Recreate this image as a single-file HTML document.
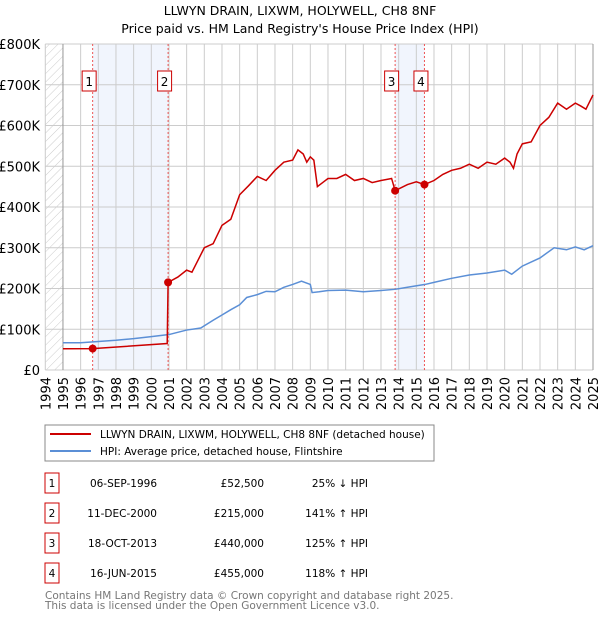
<!DOCTYPE html>
<html><head><meta charset="utf-8"><style>
body{margin:0;background:#fff;font-family:"Liberation Sans","DejaVu Sans",sans-serif;}
svg text{font-family:"DejaVu Sans","Liberation Sans",sans-serif;}
</style></head><body>
<svg id="c" width="600" height="620" viewBox="0 0 600 620" xmlns="http://www.w3.org/2000/svg">
<defs><pattern id="hatch" width="6" height="6" patternUnits="userSpaceOnUse" patternTransform="rotate(45)"><line x1="0" y1="0" x2="0" y2="6" stroke="#ccc" stroke-width="1"/></pattern></defs>
<text x="300" y="15" text-anchor="middle" font-size="12.5">LLWYN DRAIN, LIXWM, HOLYWELL, CH8 8NF</text>
<text x="300" y="33" text-anchor="middle" font-size="12.5">Price paid vs. HM Land Registry's House Price Index (HPI)</text>
<g id="plot"></g>
<rect x="45" y="425" width="389" height="36" fill="#fff" stroke="#888"/>
<line x1="50" y1="434" x2="91" y2="434" stroke="#cc0000" stroke-width="2"/>
<text x="100" y="438" font-size="10.5">LLWYN DRAIN, LIXWM, HOLYWELL, CH8 8NF (detached house)</text>
<line x1="50" y1="451" x2="91" y2="451" stroke="#5b8fd6" stroke-width="2"/>
<text x="100" y="455" font-size="10.5">HPI: Average price, detached house, Flintshire</text>
<g id="tbl"></g>
<text x="45" y="599" font-size="10.5" fill="#777">Contains HM Land Registry data © Crown copyright and database right 2025.</text>
<text x="45" y="609" font-size="10.5" fill="#777">This data is licensed under the Open Government Licence v3.0.</text>
</svg>
<script>
const hpiYears=[1995,1996,1997,1998,1999,2000,2001,2002,2002.8,2003.5,2004,2004.5,2005,2005.4,2006,2006.5,2007,2007.5,2008,2008.5,2009,2009.1,2009.5,2010,2011,2012,2013,2013.8,2014.5,2015.5,2016,2017,2018,2019,2020,2020.4,2021,2022,2022.8,2023.5,2024,2024.5,2025];
const hpiValues=[67,67,70,73,77,82,87,98,103,122,135,148,160,178,185,193,192,203,210,218,210,190,192,195,196,192,195,198,203,210,215,225,233,238,245,235,255,275,300,295,302,295,305];
const redYears=[1995,1996.68,2000.9,2000.95,2001.5,2002,2002.3,2003,2003.5,2004,2004.5,2005,2005.5,2006,2006.5,2007,2007.5,2008,2008.3,2008.6,2008.8,2009,2009.2,2009.4,2009.7,2010,2010.5,2011,2011.5,2012,2012.5,2013,2013.6,2013.8,2014.5,2015,2015.46,2016,2016.5,2017,2017.5,2018,2018.5,2019,2019.5,2020,2020.3,2020.5,2020.7,2021,2021.5,2022,2022.5,2023,2023.5,2024,2024.3,2024.6,2025];
const redValues=[52,52.5,65,215,228,245,240,300,310,355,370,430,452,475,465,490,510,515,540,530,510,523,515,450,460,470,470,480,465,470,460,465,470,440,455,462,455,465,480,490,495,505,495,510,505,520,510,495,530,555,560,600,620,655,640,655,648,640,675];
const saleLabels=["1","2","3","4"];
const saleYears=[1996.68,2000.95,2013.8,2015.46];
const saleValues=[52.5,215,440,455];
const saleDates=["06-SEP-1996","11-DEC-2000","18-OCT-2013","16-JUN-2015"];
const salePrices=["£52,500","£215,000","£440,000","£455,000"];
const saleHpi=["25% ↓ HPI","141% ↑ HPI","125% ↑ HPI","118% ↑ HPI"];
const yTicks=[0,100,200,300,400,500,600,700,800];
const yTickLabels=["£0","£100K","£200K","£300K","£400K","£500K","£600K","£700K","£800K"];
const xTicks=[1994,1995,1996,1997,1998,1999,2000,2001,2002,2003,2004,2005,2006,2007,2008,2009,2010,2011,2012,2013,2014,2015,2016,2017,2018,2019,2020,2021,2022,2023,2024,2025];

const X0=45.3,X1=593,Y0=370,Y1=44;
const xs=y=>X0+(y-1994)*(X1-X0)/31;
const ys=v=>Y0-v*(Y0-Y1)/800;
const NS="http://www.w3.org/2000/svg";
const plot=document.getElementById('plot');
function mk(tag,attrs,parent,text){const e=document.createElementNS(NS,tag);for(const k in attrs)e.setAttribute(k,attrs[k]);if(text!==undefined)e.textContent=text;(parent||plot).appendChild(e);return e;}

let e;
e=mk('rect',{x:X0,y:Y1,width:xs(1995)-X0,height:Y0-Y1,fill:'url(#hatch)'});


e=mk('rect',{x:xs(saleYears[0]),y:Y1,width:xs(saleYears[1])-xs(saleYears[0]),height:Y0-Y1,fill:'#eef3fc',opacity:0.8});


e=mk('rect',{x:xs(saleYears[2]),y:Y1,width:xs(saleYears[3])-xs(saleYears[2]),height:Y0-Y1,fill:'#eef3fc',opacity:0.8});



yTicks.forEach((t,i)=>{
  e=mk('line',{x1:X0,x2:X1,y1:ys(t),y2:ys(t),stroke:'#ccc','stroke-width':1});
  
  
  e=mk('text',{x:40,y:ys(t)+5,'text-anchor':'end','font-size':13},plot,yTickLabels[i]);
  
  
});
xTicks.forEach(t=>{
  e=mk('line',{x1:xs(t),x2:xs(t),y1:Y1,y2:Y0,stroke:'#ccc','stroke-width':1});
  
  
  e=mk('text',{x:0,y:0,'text-anchor':'end','font-size':13,transform:`translate(${xs(t)+5},377) rotate(-90)`},plot,String(t));
  
  
});
e=mk('line',{x1:xs(1995),x2:xs(1995),y1:Y1,y2:Y0,stroke:'#999'});


e=mk('line',{x1:X1,x2:X1,y1:Y1,y2:Y0,stroke:'#999'});



saleYears.forEach((y,i)=>{
  e=mk('line',{x1:xs(y),x2:xs(y),y1:Y1,y2:Y0,stroke:'#ee5555','stroke-dasharray':'2,2','stroke-width':1});
  
  
  const rx=xs(y)-10.5;
  e=mk('rect',{x:rx,y:71,width:14,height:20,fill:'#fff',stroke:'#cc0000'});
  
  
  e=mk('text',{x:rx+7,y:86,'text-anchor':'middle','font-size':12},plot,saleLabels[i]);
  
  
});

e=mk('polyline',{points:hpiYears.map((y,i)=>xs(y)+','+ys(hpiValues[i])).join(' '),fill:'none',stroke:'#5b8fd6','stroke-width':1.5});


e=mk('polyline',{points:redYears.map((y,i)=>xs(y)+','+ys(redValues[i])).join(' '),fill:'none',stroke:'#cc0000','stroke-width':1.5});


saleYears.forEach((y,i)=>{
  e=mk('circle',{cx:xs(y),cy:ys(saleValues[i]),r:4,fill:'#cc0000'});
  
  
});

const tbl=document.getElementById('tbl');
saleLabels.forEach((l,i)=>{
  const cy=483+i*30;
  e=mk('rect',{x:45,y:cy-10,width:14,height:20,fill:'#fff',stroke:'#cc0000'},tbl);
  
  
  e=mk('text',{x:52,y:cy+4,'text-anchor':'middle','font-size':10.5},tbl,l);
  
  
  e=mk('text',{x:157,y:cy+4,'text-anchor':'end','font-size':10.5},tbl,saleDates[i]);
  
  
  e=mk('text',{x:264,y:cy+4,'text-anchor':'end','font-size':10.5},tbl,salePrices[i]);
  
  
  e=mk('text',{x:368,y:cy+4,'text-anchor':'end','font-size':10.5},tbl,saleHpi[i]);
  
  
});
</script>
</body></html>
